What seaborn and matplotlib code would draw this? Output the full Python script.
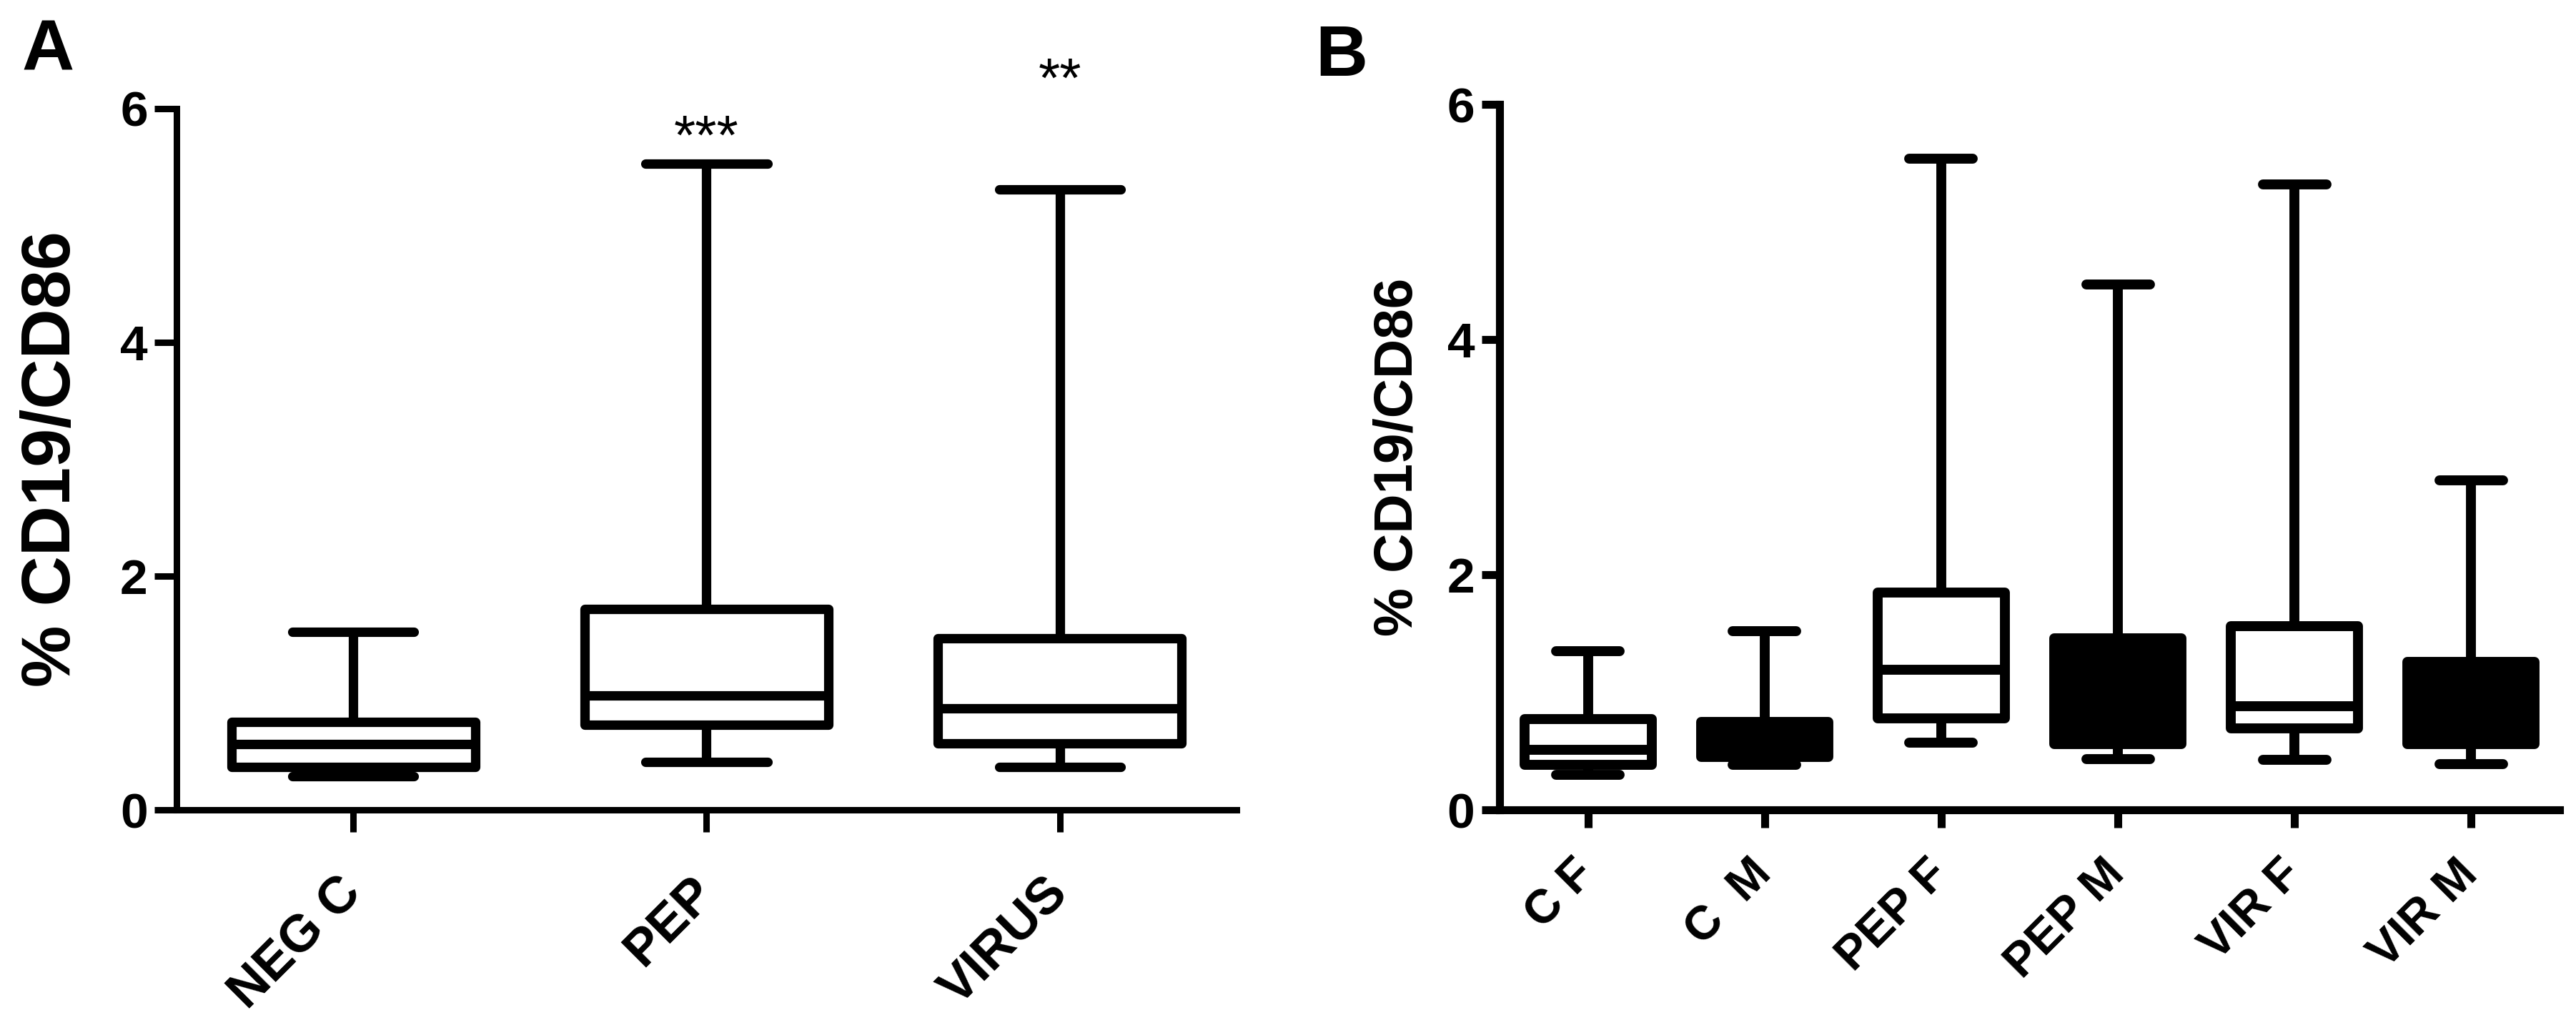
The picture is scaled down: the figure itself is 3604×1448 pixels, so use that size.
import numpy as np
import pandas as pd
import seaborn as sns
import matplotlib
matplotlib.use("Agg")
import matplotlib.pyplot as plt

# panel A: five-number summaries (min, q1, median, q3, max)
groups_a = ["NEG C", "PEP", "VIRUS"]
min_a = [0.29, 0.41, 0.37]
q1_a = [0.37, 0.73, 0.57]
med_a = [0.56, 0.98, 0.87]
q3_a = [0.75, 1.72, 1.47]
max_a = [1.52, 5.53, 5.31]
stars_a = ["", "***", "**"]
star_y_a = [0.0, 5.61, 6.10]

# panel B
groups_b = ["C F", "C  M", "PEP F", "PEP M", "VIR F", "VIR M"]
min_b = [0.30, 0.38, 0.57, 0.43, 0.425, 0.39]
q1_b = [0.38, 0.45, 0.78, 0.56, 0.69, 0.56]
med_b = [0.51, 0.60, 1.19, 0.90, 0.88, 0.80]
q3_b = [0.77, 0.75, 1.85, 1.46, 1.56, 1.26]
max_b = [1.35, 1.52, 5.54, 4.47, 5.32, 2.80]
fill_b = ["white", "black", "white", "black", "white", "black"]

y_ticks = [0, 2, 4, 6]
y_label = "% CD19/CD86"


def five_num_frame(groups, mins, q1s, meds, q3s, maxs):
    # 5 points per group -> numpy quartiles land exactly on q1/median/q3
    rows = []
    for g, a, b, c, d, e in zip(groups, mins, q1s, meds, q3s, maxs):
        for v in (a, b, c, d, e):
            rows.append({"group": g, "value": v})
    return pd.DataFrame(rows)


sns.set_style("ticks")
plt.rcParams["font.family"] = ["Liberation Sans", "DejaVu Sans"]
plt.rcParams["lines.solid_capstyle"] = "round"
for key in ("text.color", "axes.labelcolor", "xtick.color", "ytick.color", "axes.edgecolor"):
    plt.rcParams[key] = "black"

fig = plt.figure(figsize=(36.04, 14.48), dpi=100)
ax_a = fig.add_axes([0.06853, 0.21754, 0.41149, 0.67749])
ax_b = fig.add_axes([0.58213, 0.21754, 0.41149, 0.68163])

df_a = five_num_frame(groups_a, min_a, q1_a, med_a, q3_a, max_a)
df_b = five_num_frame(groups_b, min_b, q1_b, med_b, q3_b, max_b)

sns.boxplot(data=df_a, x="group", y="value", hue="group", order=groups_a,
            palette={g: "white" for g in groups_a}, linecolor="black",
            linewidth=9.5, width=0.69, whis=(0, 100), legend=False, ax=ax_a)
sns.boxplot(data=df_b, x="group", y="value", hue="group", order=groups_b,
            palette=dict(zip(groups_b, fill_b)), linecolor="black",
            linewidth=10, width=0.72, whis=(0, 100), legend=False, ax=ax_b)

for i, s in enumerate(stars_a):
    if s:
        ax_a.text(i, star_y_a[i], s, ha="center", va="baseline",
                  fontsize=56, clip_on=False)

panels = [
    (ax_a, groups_a, 6.5, 22, 52, 54, (118 - 247) / 1483, 70),
    (ax_b, groups_b, 8, 18, 48, 40, (1992 - 2098) / 1483, 55),
]
for ax, groups, spw, tlen, xfs, xpad, ylab_x, ylab_fs in panels:
    for p in ax.patches:
        p.set_joinstyle("round")
    ax.set_ylim(0, 6)
    ax.set_xlim(-0.5, len(groups) - 0.5)
    ax.set_yticks(y_ticks)
    ax.set_yticklabels([str(t) for t in y_ticks], fontsize=50, fontweight="bold")
    ax.set_xticks(range(len(groups)))
    ax.set_xticklabels(groups, rotation=45, ha="right", va="center",
                       rotation_mode="anchor", fontsize=xfs, fontweight="bold")
    ax.tick_params(axis="both", direction="out", length=tlen, width=spw, color="black",
                   labelcolor="black")
    ax.tick_params(axis="y", pad=7)
    ax.tick_params(axis="x", pad=xpad)
    sns.despine(ax=ax)
    for side in ("left", "bottom"):
        ax.spines[side].set_linewidth(spw)
        ax.spines[side].set_color("black")
    ax.set_xlabel("")
    ax.set_ylabel(y_label, fontsize=ylab_fs, fontweight="bold", color="black")
    ax.yaxis.set_label_coords(ylab_x, 0.5)

fig.text(30 / 3604, 1 - 98 / 1448, "A", fontsize=73, fontweight="bold",
         ha="left", va="baseline", color="black")
fig.text(1840 / 3604, 1 - 106 / 1448, "B", fontsize=73, fontweight="bold",
         ha="left", va="baseline", color="black")

fig.savefig("out.png", dpi=100, facecolor="white")
